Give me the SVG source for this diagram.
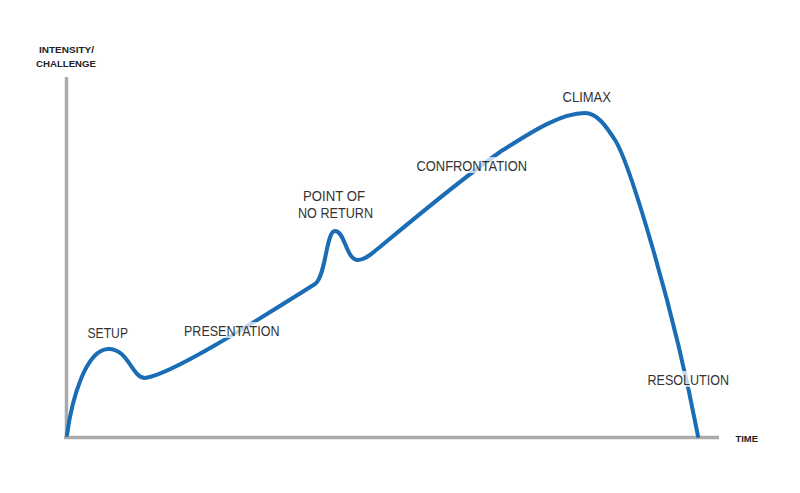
<svg xmlns="http://www.w3.org/2000/svg" width="800" height="493" viewBox="0 0 800 493">
<style>
.axis{stroke:#aaaaaa;stroke-width:3.5;fill:none}
.curve{stroke:#1a6db5;stroke-width:4;fill:none;stroke-linecap:round;stroke-linejoin:round}
.lbl{font-family:"Liberation Sans",Arial,sans-serif;font-size:14px;fill:#333333}
.ax{font-family:"Liberation Sans",Arial,sans-serif;font-size:9.5px;font-weight:bold;fill:#222222}
.hl{fill:#ffffff;opacity:0.72}
</style>
<rect width="800" height="493" fill="#ffffff"/>
<g id="axes">
<line class="axis" x1="66.5" y1="77" x2="66.5" y2="438"/>
<line class="axis" x1="64" y1="437.5" x2="719" y2="437.5"/>
<text class="ax" x="66.5" y="52.5" text-anchor="middle" textLength="55" lengthAdjust="spacingAndGlyphs">INTENSITY/</text>
<text class="ax" x="66" y="66.5" text-anchor="middle" textLength="60" lengthAdjust="spacingAndGlyphs">CHALLENGE</text>
<text class="ax" x="735.5" y="442" textLength="22.5" lengthAdjust="spacingAndGlyphs">TIME</text>
</g>
<g id="connectors">
<path class="curve" d="M67,435 C72,398 86,350 108,349 C128,348 132,378 145,378 C170,375 250,325 315,284 C326,277 326,231 335,231 C345,231 346,260 358,260 C366,260 372,253 380,247 C410,222 460,180 500,152 C530,133 560,113 585,113 C597,113 606,126 615,140 C628,160 672,300 698,436"/>
</g>
<g id="setup"><text class="lbl" x="87.5" y="338" textLength="40.5" lengthAdjust="spacingAndGlyphs">SETUP</text></g>
<g id="presentation"><rect class="hl" x="183" y="322" width="97" height="16"/><text class="lbl" x="184" y="335.5" textLength="95.5" lengthAdjust="spacingAndGlyphs">PRESENTATION</text></g>
<g id="point-of-no-return">
<text class="lbl" x="303" y="200.5" textLength="62" lengthAdjust="spacingAndGlyphs">POINT OF</text>
<text class="lbl" x="298" y="217.5" textLength="75" lengthAdjust="spacingAndGlyphs">NO RETURN</text>
</g>
<g id="confrontation"><rect class="hl" x="415.5" y="157" width="112" height="16"/><text class="lbl" x="416.5" y="170.5" textLength="110.5" lengthAdjust="spacingAndGlyphs">CONFRONTATION</text></g>
<g id="climax"><text class="lbl" x="562.5" y="101.5" textLength="48.5" lengthAdjust="spacingAndGlyphs">CLIMAX</text></g>
<g id="resolution"><rect class="hl" x="646.5" y="371" width="83" height="16"/><text class="lbl" x="647.5" y="384.5" textLength="81.5" lengthAdjust="spacingAndGlyphs">RESOLUTION</text></g>
</svg>
